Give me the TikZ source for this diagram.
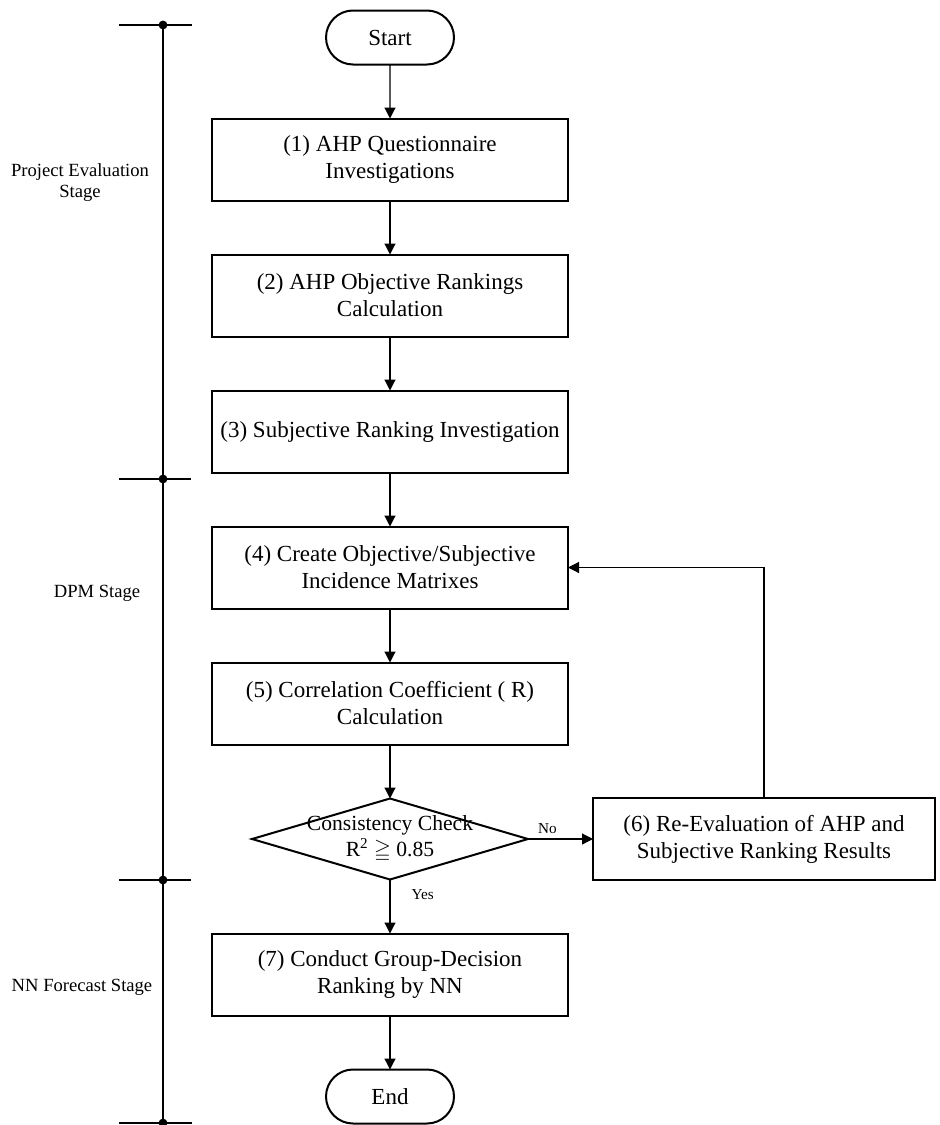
\documentclass[tikz,border=0pt]{standalone}
\usepackage{amssymb}
\usepackage{fontspec}
\setmainfont{Liberation Serif}
\usetikzlibrary{positioning,shapes.geometric,shapes.misc,arrows.meta}
\tikzset{box/.style={draw,line width=1pt,outer sep=0pt,rectangle,minimum width=178pt,minimum height=41pt,inner sep=2pt,align=center,node font=\fontsize{11.5}{13.5}\selectfont}}
\tikzset{term/.style={box,rounded rectangle,minimum width=68pt,minimum height=27pt}}
\tikzset{chk/.style={draw,line width=1pt,outer sep=0pt,diamond,minimum width=138pt,minimum height=40.5pt,inner sep=0pt}}
\tikzset{stage/.style={align=center,node font=\fontsize{9.3}{10.5}\selectfont}}
\tikzset{yn/.style={node font=\fontsize{7.6}{9}\selectfont}}
\tikzset{arr/.style={-{Triangle[length=5.5pt,width=5.5pt]},line width=0.6pt}}

\begin{document}
\begin{tikzpicture}[x=0.5pt,y=-0.5pt]
        \useasboundingbox (0,0) rectangle (939,1125);
        \node (st) [term] at (390,37.5) {Start};
        \node (1) [box, below=27pt of st] {(1) AHP Questionnaire\\Investigations};
        \node (2) [box, below=27pt of 1] {(2) AHP Objective Rankings\\Calculation};
        \node (3) [box, below=27pt of 2] {(3) Subjective Ranking Investigation};
        \node (4) [box, below=27pt of 3] {(4) Create Objective/Subjective\\Incidence Matrixes};
        \node (5) [box, below=27pt of 4] {(5) Correlation Coefficient ( R)\\Calculation};
        \node (c) [chk, below=27pt of 5, label={[align=center,font=\fontsize{10.8}{13}\selectfont]center:Consistency Check\\R\textsuperscript{2} $\geqq$ 0.85}] {};
        \node (6) [box, right=32.5pt of c, minimum width=171pt] {(6) Re-Evaluation of AHP and\\Subjective Ranking Results};
        \node (7) [box, below=27pt of c] {(7) Conduct Group-Decision\\Ranking by NN};
        \node (en) [term, below=27pt of 7] {End};
        \draw (st) edge[arr] (1);
        \draw (1) edge[arr] (2);
        \draw (2) edge[arr] (3);
        \draw (3) edge[arr] (4);
        \draw (4) edge[arr] (5);
        \draw (5) edge[arr] (c);
        \draw (c) edge[arr] node[yn, above, pos=0.3] {No} (6);
        \draw (c) edge[arr] node[yn, right=8pt, pos=0.28] {Yes} (7);
        \draw (7) edge[arr] (en);
        \draw[arr] (6) |- (4);
%        stage bar on the left
        \node (pe) [stage] at (80,183) {Project Evaluation\\Stage};
        \node (dpm) [stage] at (97,593) {DPM Stage};
        \node (nn) [stage] at (82,987) {NN Forecast Stage};
        \coordinate (k0) at (163,25);
        \coordinate (k1) at (163,479);
        \coordinate (k2) at (163,880);
        \coordinate (k3) at (163,1123);
        \draw[line width=1pt] (k0) -- (k3);
        \draw[line width=1pt] ([xshift=-22pt]k0) -- ([xshift=14.5pt]k0);
        \draw[line width=1pt] ([xshift=-22pt]k1) -- ([xshift=14pt]k1);
        \draw[line width=1pt] ([xshift=-22pt]k2) -- ([xshift=14pt]k2);
        \draw[line width=1pt] ([xshift=-22pt]k3) -- ([xshift=14.5pt]k3);
        \fill (k0) circle (2.2pt);
        \fill (k1) circle (2.2pt);
        \fill (k2) circle (2.2pt);
        \fill (k3) circle (2.2pt);
\end{tikzpicture}
\end{document}
